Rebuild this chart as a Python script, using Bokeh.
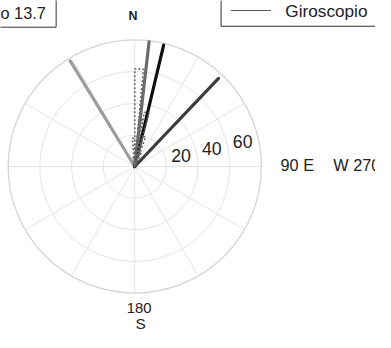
import numpy as np
from bokeh.plotting import figure
from bokeh.models import Range1d
from bokeh.embed import file_html
from bokeh.resources import INLINE
from bokeh.core.properties import value

# ---------------- data ----------------
ring_values = [20, 40, 60, 80]
ring_label_values = [20, 40, 60]
ring_labels = ["20", "40", "60"]
spoke_bearings = list(range(0, 360, 30))
vector_bearings = [328.7, 6.5, 13.3, 43.4]
vector_lengths = [78.5, 79.7, 79.3, 77.0]
vector_colors = ["#9c9c9c", "#6b6b6b", "#111111", "#3d3d3d"]
rose_bin_edges = [-10, -5, 0, 5, 10, 15, 20, 25]
rose_counts = [6, 18, 62, 30, 35, 20, 10]
legend_label = "Giroscopio"
box_label = "o 13.7"

# ---------------- layout helpers ----------------
S = 1.65            # reference pixels per data unit
CX, CY = 140, 174   # reference pixel of polar origin
REF_W, REF_H = 391, 348
W, H = 375, 332
F = 0.957           # font scale (figure px per reference px)

def pg(px, py):
    """reference pixel -> data coords"""
    return (px - CX) / S, (CY - py) / S

def pol(b_deg, r):
    b = np.radians(b_deg)
    return r * np.sin(b), r * np.cos(b)

def fs(size):
    return f"{size * F:.1f}px"

p = figure(width=W, height=H, output_backend="svg", toolbar_location=None,
           x_range=Range1d(-CX / S, (REF_W - CX) / S),
           y_range=Range1d((CY - REF_H) / S, CY / S),
           min_border=0)
p.axis.visible = False
p.grid.visible = False
p.outline_line_color = None
p.background_fill_color = "white"
p.border_fill_color = "white"

# grid spokes
sx, sy = pol(np.array(spoke_bearings), ring_values[-1])
p.segment(x0=0, y0=0, x1=sx, y1=sy, line_color="#e4e4e4", line_width=1)
# rings
p.circle(x=[0] * 3, y=[0] * 3, radius=ring_values[:-1], radius_dimension="x",
         fill_color=None, line_color="#e4e4e4", line_width=1)
p.circle(x=[0], y=[0], radius=[ring_values[-1]], radius_dimension="x",
         fill_color=None, line_color="#d4d4d4", line_width=1.3)

font = value("Liberation Sans")

# ring labels
lx, ly = pol(77.0, np.array(ring_label_values) + 10)
p.text(x=lx, y=ly, text=ring_labels, text_align="center", text_baseline="middle",
       text_font=font, text_font_size=fs(18.5), text_color="#222222")

# compass vectors
vx, vy = pol(np.array(vector_bearings), np.array(vector_lengths))
p.segment(x0=0, y0=0, x1=vx, y1=vy, line_color=vector_colors, line_width=3.2,
          line_cap="round")

# rose (dotted)
rx, ry = [0.0], [0.0]
for i, c in enumerate(rose_counts):
    for b in (rose_bin_edges[i], rose_bin_edges[i + 1]):
        x, y = pol(b, c)
        rx.append(x); ry.append(y)
    rx.append(0.0); ry.append(0.0)
p.line(rx, ry, line_color="#666666", line_width=1.6, line_dash="2 2")

# direction labels
x, y = pg(138, 16)
p.text(x=[x], y=[y], text=["N"], text_align="center", text_baseline="middle",
       text_font=font, text_font_size=fs(13), text_font_style="bold", text_color="#222222")
x, y = pg(292, 172.5)
p.text(x=[x], y=[y], text=["90 E"], text_align="left", text_baseline="middle",
       text_font=font, text_font_size=fs(17), text_color="#222222")
x, y = pg(347, 172.5)
p.text(x=[x], y=[y], text=["W 270"], text_align="left", text_baseline="middle",
       text_font=font, text_font_size=fs(17), text_color="#222222")
x, y = pg(144.5, 322.5)
p.text(x=[x], y=[y], text=["180"], text_align="center", text_baseline="middle",
       text_font=font, text_font_size=fs(15.5), text_color="#222222")
x, y = pg(146, 339)
p.text(x=[x], y=[y], text=["S"], text_align="center", text_baseline="middle",
       text_font=font, text_font_size=fs(16), text_color="#222222")

# legend box (partially cropped)
l, b = pg(230, 27)
r, t = pg(420, -10)
p.quad(left=[l], right=[r], bottom=[b], top=[t], fill_color="white",
       line_color="#333333", line_width=1)
x0, y0 = pg(240, 10.5)
x1, _ = pg(282, 10.5)
p.segment(x0=[x0], y0=[y0], x1=[x1], y1=[y0], line_color="#555555", line_width=1.2)
x, y = pg(297, 11)
p.text(x=[x], y=[y], text=[legend_label], text_align="left", text_baseline="middle",
       text_font=font, text_font_size=fs(18), text_color="#222222")

# left text box (partially cropped)
l, b = pg(-30, 28)
r, t = pg(58, -10)
p.quad(left=[l], right=[r], bottom=[b], top=[t], fill_color="white",
       line_color="#333333", line_width=1)
x, y = pg(0, 13)
p.text(x=[x], y=[y], text=[box_label], text_align="left", text_baseline="middle",
       text_font=font, text_font_size=fs(17), text_color="#222222")

open("out.html", "w").write(file_html(p, INLINE))
